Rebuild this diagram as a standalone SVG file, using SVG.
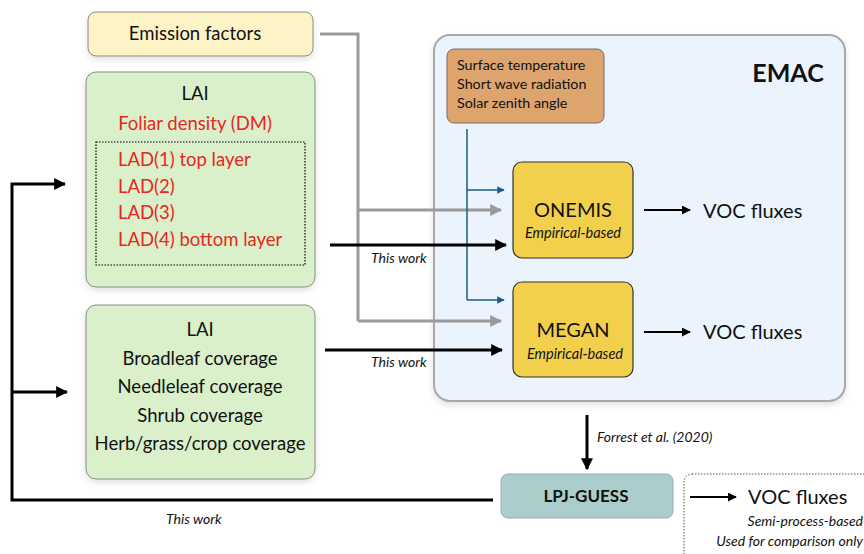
<svg xmlns="http://www.w3.org/2000/svg" width="864" height="554" viewBox="0 0 864 554">
<defs>
<style>
text{font-family:Lato,"Liberation Sans",sans-serif;fill:#111}
.red{fill:#e8261f}
.it{font-style:italic;font-size:14px}
.box{stroke:#8a8a8a;stroke-width:1}
.gray{stroke:#9a9a9a;stroke-width:3;fill:none}
.blk{stroke:#000;stroke-width:3;fill:none}
.thin{stroke:#000;stroke-width:2;fill:none}
.blue{stroke:#1a5c8c;stroke-width:1.5;fill:none}
</style>
<marker id="ag" viewBox="0 0 10 10" refX="9" refY="5" markerWidth="4" markerHeight="4" orient="auto" markerUnits="strokeWidth"><path d="M0,0L10,5L0,10z" fill="#9a9a9a"/></marker>
<marker id="ab" viewBox="0 0 10 10" refX="9" refY="5" markerWidth="4" markerHeight="4" orient="auto" markerUnits="strokeWidth"><path d="M0,0L10,5L0,10z" fill="#000"/></marker>
<marker id="at" viewBox="0 0 10 10" refX="9" refY="5" markerWidth="4.5" markerHeight="4.5" orient="auto" markerUnits="strokeWidth"><path d="M0,0L10,5L0,10z" fill="#000"/></marker>
<marker id="abl" viewBox="0 0 10 10" refX="9" refY="5" markerWidth="5" markerHeight="5" orient="auto" markerUnits="strokeWidth"><path d="M0,0L10,5L0,10z" fill="#1a5c8c"/></marker>
<filter id="sh" x="-10%" y="-10%" width="120%" height="130%"><feDropShadow dx="0" dy="3" stdDeviation="3" flood-color="#000" flood-opacity="0.12"/></filter>
</defs>

<g id="emac">
<rect x="434" y="35" width="411" height="366" rx="16" fill="#ebf3fd" stroke="#a8a8a8" stroke-width="2" filter="url(#sh)"/>
<text x="788" y="82" font-size="25" font-weight="bold" text-anchor="middle">EMAC</text>
</g>

<g id="emission-factors">
<rect class="box" x="88" y="12" width="225" height="44" rx="8" fill="#fcf3c6" filter="url(#sh)"/>
<text x="195" y="40" font-size="18.5" text-anchor="middle">Emission factors</text>
</g>

<g id="lai-lad">
<rect class="box" x="86" y="72" width="229" height="215" rx="10" fill="#d9f0ca" filter="url(#sh)"/>
<text x="195" y="100" font-size="18.5" text-anchor="middle">LAI</text>
<text class="red" x="195" y="130" font-size="18.5" text-anchor="middle">Foliar density (DM)</text>
<rect x="96" y="142" width="209" height="123" fill="none" stroke="#000" stroke-width="1.2" stroke-dasharray="1.5,1.5"/>
<text class="red" x="118" y="166" font-size="18.5">LAD(1) top layer</text>
<text class="red" x="118" y="193" font-size="18.5">LAD(2)</text>
<text class="red" x="118" y="219" font-size="18.5">LAD(3)</text>
<text class="red" x="118" y="246" font-size="18.5">LAD(4) bottom layer</text>
</g>

<g id="lai-coverage">
<rect class="box" x="86" y="305" width="229" height="174" rx="10" fill="#d9f0ca" filter="url(#sh)"/>
<g font-size="18.5" text-anchor="middle">
<text x="200" y="336">LAI</text>
<text x="200" y="365">Broadleaf coverage</text>
<text x="200" y="393">Needleleaf coverage</text>
<text x="200" y="422">Shrub coverage</text>
<text x="200" y="450">Herb/grass/crop coverage</text>
</g>
</g>

<g id="met-inputs">
<rect x="447" y="49" width="157" height="74" rx="7" fill="#dda46e" stroke="#7a6a5a" stroke-width="1"/>
<g font-size="14.3">
<text x="457" y="70">Surface temperature</text>
<text x="457" y="89">Short wave radiation</text>
<text x="457" y="108">Solar zenith angle</text>
</g>
</g>

<g id="onemis">
<rect x="513" y="162" width="120" height="96" rx="9" fill="#f2d04b" stroke="#333" stroke-width="1.2"/>
<text x="573" y="217" font-size="20" text-anchor="middle">ONEMIS</text>
<text x="573" y="238" font-size="14.5" font-style="italic" text-anchor="middle">Empirical-based</text>
</g>

<g id="megan">
<rect x="513" y="282" width="120" height="95" rx="9" fill="#f2d04b" stroke="#333" stroke-width="1.2"/>
<text x="573" y="337" font-size="20" text-anchor="middle">MEGAN</text>
<text x="575" y="359" font-size="14.5" font-style="italic" text-anchor="middle">Empirical-based</text>
</g>

<g id="voc-onemis"><text x="703" y="218" font-size="20">VOC fluxes</text></g>
<g id="voc-megan"><text x="703" y="339" font-size="20">VOC fluxes</text></g>

<g id="lpj-guess">
<rect x="501" y="474" width="172" height="44" rx="7" fill="#abcdcb" stroke="#9ab" stroke-width="1"/>
<text x="586" y="502" font-size="17" font-weight="bold" text-anchor="middle">LPJ-GUESS</text>
</g>

<g id="voc-lpj">
<rect x="684" y="474" width="200" height="100" rx="8" fill="none" stroke="#555" stroke-width="1" stroke-dasharray="1.5,1.5"/>
<text x="748" y="504" font-size="20">VOC fluxes</text>
<text class="it" x="863" y="526" text-anchor="end">Semi-process-based</text>
<text class="it" x="863" y="546" text-anchor="end">Used for comparison only</text>
</g>

<g id="connectors">
<path class="gray" d="M320,34H358V321"/>
<path class="gray" d="M358,210H501" marker-end="url(#ag)"/>
<path class="gray" d="M358,321H501" marker-end="url(#ag)"/>
<path class="blue" d="M467,129V300"/>
<path class="blue" d="M467,190H504" marker-end="url(#abl)"/>
<path class="blue" d="M467,300H504" marker-end="url(#abl)"/>
<path class="blk" d="M330,245H506" marker-end="url(#ab)"/>
<path class="blk" d="M325,350H502" marker-end="url(#ab)"/>
<path class="thin" d="M644,210H690" marker-end="url(#at)"/>
<path class="thin" d="M644,332H690" marker-end="url(#at)"/>
<path class="thin" d="M690,497H736" marker-end="url(#at)"/>
<path class="blk" d="M587,415V469" marker-end="url(#ab)"/>
<path class="blk" d="M493,500H12V184H65" marker-end="url(#ab)"/>
<path class="blk" d="M12,392H67" marker-end="url(#ab)"/>
<text class="it" x="371" y="263">This work</text>
<text class="it" x="371" y="367">This work</text>
<text class="it" x="166" y="524">This work</text>
<text class="it" x="597" y="442">Forrest et al. (2020)</text>
</g>
</svg>
